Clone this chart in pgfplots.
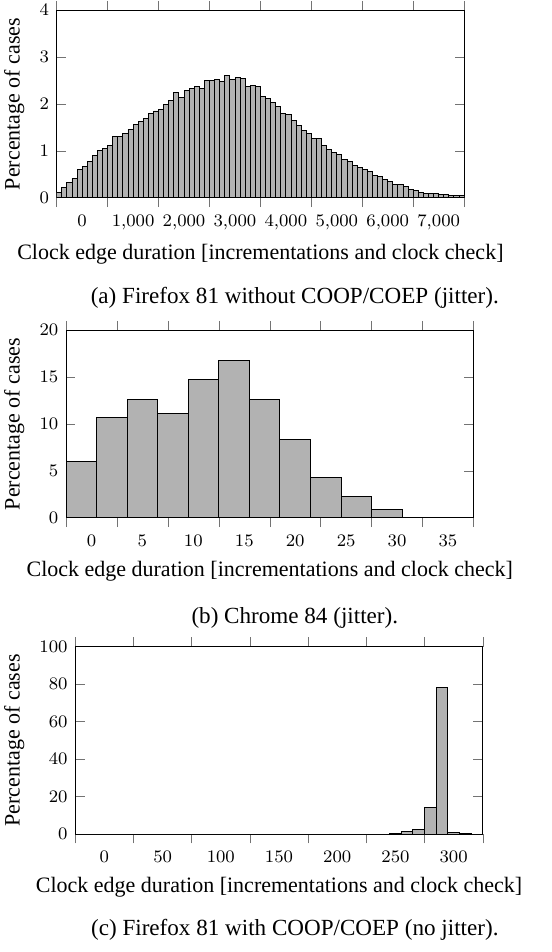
\documentclass[border=0pt]{standalone}
\usepackage{pgfplots}
\pgfplotsset{compat=1.18}
\usepackage{fontspec}
\setmainfont{Liberation Serif}
\begin{document}
\begin{tikzpicture}
\pgfplotsset{
  every axis/.append style={
    scale only axis,
    width=185.2pt, height=85.2pt,
    ybar interval,
    xmajorgrids=false,
    ymajorgrids=false,
    enlargelimits=false,
    ymin=0,
    tick label style={font=\footnotesize},
    label style={font=\fontsize{10}{12}\selectfont},
    xtick align=outside,
    ytick align=inside,
    major tick style={black!55},
    xlabel={Clock edge duration [incrementations and clock check]},
    ylabel={Percentage of cases},
  },
  mybar/.style={fill=gray!60, draw=black},
}
\path[use as bounding box] (0,0) rectangle (250.91pt,-432.73pt);
% (a)
\begin{axis}[at={(25.77pt,-89.86pt)}, anchor=south west,
  xmin=0, xmax=8000, ymax=4, xtick={0,1000,...,8000}, ytick={0,1,2,3,4}]
\addplot[mybar] coordinates {
(0,0.11) (100,0.21) (200,0.33) (300,0.41) (400,0.60) (500,0.67) (600,0.78) (700,0.90) (800,1.01) (900,1.05)
(1000,1.11) (1100,1.30) (1200,1.31) (1300,1.37) (1400,1.46) (1500,1.57) (1600,1.63) (1700,1.69) (1800,1.79) (1900,1.85)
(2000,1.89) (2100,1.99) (2200,2.08) (2300,2.24) (2400,2.14) (2500,2.29) (2600,2.33) (2700,2.38) (2800,2.34) (2900,2.50)
(3000,2.50) (3100,2.53) (3200,2.48) (3300,2.60) (3400,2.53) (3500,2.56) (3600,2.54) (3700,2.37) (3800,2.39) (3900,2.37)
(4000,2.16) (4100,2.11) (4200,2.04) (4300,1.94) (4400,1.79) (4500,1.78) (4600,1.65) (4700,1.54) (4800,1.43) (4900,1.37)
(5000,1.27) (5100,1.27) (5200,1.12) (5300,1.03) (5400,0.97) (5500,0.92) (5600,0.82) (5700,0.78) (5800,0.69) (5900,0.64)
(6000,0.60) (6100,0.56) (6200,0.48) (6300,0.46) (6400,0.39) (6500,0.34) (6600,0.29) (6700,0.29) (6800,0.24) (6900,0.18)
(7000,0.15) (7100,0.11) (7200,0.09) (7300,0.09) (7400,0.09) (7500,0.07) (7600,0.06) (7700,0.05) (7800,0.04) (7900,0.04)
(8000,0)
};
\end{axis}
\node[font=\fontsize{10.5}{12.6}\selectfont] at (134pt,-135.5pt) {(a) Firefox 81 without COOP/COEP (jitter).};
% (b)
\begin{axis}[at={(30.0pt,-235.32pt)}, anchor=south west,
  xmin=0, xmax=40, ymax=20, xtick={0,5,...,40}, ytick={0,5,10,15,20}]
\addplot[mybar] coordinates {
(0,6.0) (3,10.7) (6,12.6) (9,11.1) (12,14.7) (15,16.8) (18,12.6) (21,8.3) (24,4.3) (27,2.3) (30,0.9) (33,0.03) (36,0.01) (39,0)
};
\end{axis}
\node[font=\fontsize{10.5}{12.6}\selectfont] at (134pt,-280.9pt) {(b) Chrome 84 (jitter).};
% (c)
\begin{axis}[at={(34.23pt,-379.09pt)}, anchor=south west,
  xmin=0, xmax=350, ymax=100, xtick={0,50,...,350}, ytick={0,20,40,60,80,100}]
\addplot[mybar] coordinates {
(0,0) (10,0) (20,0) (30,0) (40,0) (50,0) (60,0) (70,0) (80,0) (90,0)
(100,0) (110,0) (120,0) (130,0) (140,0) (150,0) (160,0) (170,0) (180,0) (190,0)
(200,0) (210,0) (220,0) (230,0) (240,0) (250,0) (260,0) (270,0.15) (280,1.4) (290,2.6)
(300,14.2) (310,78.3) (320,0.6) (330,0.05) (340,0) (350,0)
};
\end{axis}
\node[font=\fontsize{10.5}{12.6}\selectfont] at (134pt,-422.7pt) {(c) Firefox 81 with COOP/COEP (no jitter).};
\end{tikzpicture}
\end{document}
